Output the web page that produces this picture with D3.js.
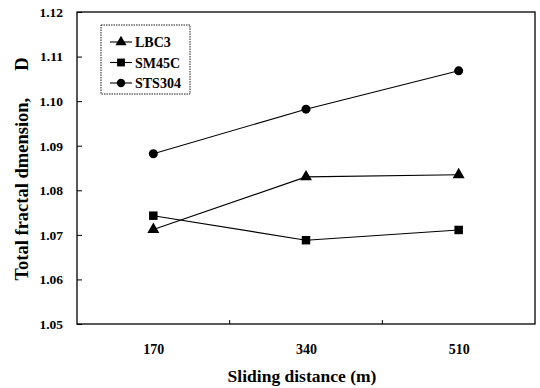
<!DOCTYPE html>
<html lang="en">
<head>
<meta charset="UTF-8">
<title>Total fractal dimension</title>
<style>
    body{ margin:0; background:#fff; }
    svg{ display:block; }
    text{ font-weight:bold; fill:#000; }
    .axtitle{ font-size:17.5px; }
    .legend{ font-size:14px; }
</style>
<script src="https://d3js.org/d3.v7.min.js"></script>
</head>
<body>
<svg id="chart" width="540" height="388"></svg>
<script>
    // data
    let distances = ["170", "340", "510"]
    let lbc3 = [1.0712, 1.0830, 1.0835]
    let sm45c = [1.0743, 1.0688, 1.0711]
    let sts304 = [1.0882, 1.0982, 1.1068]
    let yTicks = [1.05, 1.06, 1.07, 1.08, 1.09, 1.10, 1.11, 1.12]
    let seriesNames = ["LBC3", "SM45C", "STS304"]
    let seriesShapes = [d3.symbolTriangle, d3.symbolSquare, d3.symbolCircle]

    let plotLeft = 77, plotRight = 535, plotTop = 12, plotBottom = 324
    let serif = "'Liberation Serif', 'Times New Roman', 'DejaVu Serif', serif"
    let svg = d3.select("#chart")

    let xScale = d3.scalePoint().domain(distances).range([plotLeft, plotRight]).padding(0.5)
    let yScale = d3.scaleLinear().domain([1.05, 1.12]).range([plotBottom, plotTop])

    // frame
    svg.append("rect")
        .attr("x", plotLeft).attr("y", plotTop)
        .attr("width", plotRight - plotLeft).attr("height", plotBottom - plotTop)
        .attr("fill", "none").attr("stroke", "#000").attr("stroke-width", 1.3)

    // y axis, ticks inside
    let yAxis = d3.axisLeft(yScale).tickValues(yTicks).tickFormat(d3.format(".2f"))
        .tickSizeInner(-5).tickSizeOuter(0).tickPadding(14)
    let gy = svg.append("g").attr("transform", `translate(${plotLeft},0)`).call(yAxis)
    gy.select(".domain").remove()
    gy.selectAll("text").style("font-size", "13.5px")
    gy.selectAll("line").attr("stroke", "#000")

    // x axis: labels at points, tick marks between categories
    let step = xScale.step()
    let xAxis = d3.axisBottom(xScale).tickSize(0).tickPadding(20)
    let gx = svg.append("g").attr("transform", `translate(0,${plotBottom})`).call(xAxis)
    gx.select(".domain").remove()
    gx.selectAll("text").style("font-size", "14px")
    svg.append("g").selectAll("line")
        .data(distances.slice(1))
        .enter().append("line")
        .attr("x1", d => xScale(d) - step / 2).attr("x2", d => xScale(d) - step / 2)
        .attr("y1", plotBottom).attr("y2", plotBottom - 4)
        .attr("stroke", "#000")

    // axis titles
    svg.append("text").attr("class", "axtitle")
        .attr("x", 302).attr("y", 382)
        .attr("text-anchor", "middle")
        .text("Sliding distance (m)")

    let yt = svg.append("text").attr("class", "axtitle")
        .attr("transform", "translate(28,169) rotate(-90)")
        .attr("text-anchor", "middle")
        .style("font-size", "18.5px")
    yt.append("tspan").text("Total fractal dmension,")
    yt.append("tspan").attr("dx", 27).text("D")

    // series
    let allSeries = [lbc3, sm45c, sts304]
    let line = d3.line().x((d, i) => xScale(distances[i])).y(d => yScale(d))
    let markerSize = [62, 72, 64]

    allSeries.forEach(function (values, k) {
        svg.append("path")
            .attr("d", line(values))
            .attr("fill", "none").attr("stroke", "#000").attr("stroke-width", 1.1)
        svg.append("g").selectAll("path")
            .data(values)
            .enter().append("path")
            .attr("transform", (d, i) => `translate(${xScale(distances[i])},${yScale(d)})`)
            .attr("d", d3.symbol().type(seriesShapes[k]).size(markerSize[k]))
            .attr("fill", "#000")
    })

    // legend
    let lg = svg.append("g").attr("transform", "translate(101,25)")
    lg.append("rect").attr("width", 89).attr("height", 69)
        .attr("fill", "#fff").attr("stroke", "#000").attr("stroke-width", 0.9)
        .attr("stroke-dasharray", "1.5,1")
    seriesNames.forEach(function (name, k) {
        let y = 17 + k * 20.5
        let row = lg.append("g").attr("transform", `translate(0,${y})`)
        row.append("line").attr("x1", 9).attr("x2", 31).attr("y1", 0).attr("y2", 0)
            .attr("stroke", "#000").attr("stroke-width", 1.1)
        row.append("path").attr("transform", "translate(20,0)")
            .attr("d", d3.symbol().type(seriesShapes[k]).size(markerSize[k] * 0.85))
            .attr("fill", "#000")
        row.append("text").attr("class", "legend")
            .attr("x", 34).attr("y", 5).text(name)
    })

    svg.selectAll("text").style("font-family", serif).style("font-weight", "bold")
</script>
</body>
</html>
